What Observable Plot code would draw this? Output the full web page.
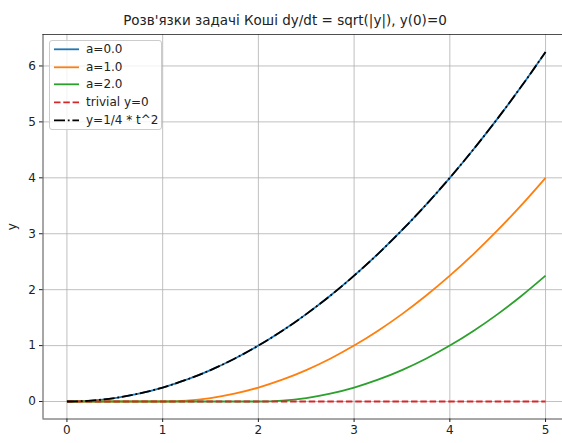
<!DOCTYPE html>
<html>
<head>
<meta charset="utf-8">
<script src="https://cdn.jsdelivr.net/npm/d3@7"></script>
<script src="https://cdn.jsdelivr.net/npm/@observablehq/plot@0.6"></script>
<style>
  body { margin: 0; background: #fff; font-family: "DejaVu Sans", sans-serif; }
  #wrap { position: relative; width: 562px; height: 443px; overflow: hidden; }
  #title { height: 33px; box-sizing: border-box; padding-top: 12px; padding-left: 8px; font-size: 13.5px; line-height: 16px; text-align: center; color: #222; white-space: nowrap; }
  #legend { position: absolute; left: 49px; top: 40px; width: 113px; height: 90px; box-sizing: border-box;
            background: rgba(255,255,255,0.8); border: 1px solid #cccccc; border-radius: 3px; font-size: 12px; color: #222; }
  .row { position: absolute; left: 0; height: 17.7px; width: 110px; }
  .row svg { position: absolute; left: 3px; top: 0; }
  .row span { position: absolute; left: 36px; top: 1px; line-height: 15px; white-space: nowrap; }
</style>
</head>
<body>
<div id="wrap">
  <div id="title"></div>
  <div id="chart"></div>
  <div id="legend"></div>
</div>
<script>
const titleText = "Розв'язки задачі Коші dy/dt = sqrt(|y|), y(0)=0";
const tValues = [0, 0.25, 0.5, 0.75, 1, 1.25, 1.5, 1.75, 2, 2.25, 2.5, 2.75, 3, 3.25, 3.5, 3.75, 4, 4.25, 4.5, 4.75, 5];
const yA0 = [0, 0.0156, 0.0625, 0.1406, 0.25, 0.3906, 0.5625, 0.7656, 1, 1.2656, 1.5625, 1.8906, 2.25, 2.6406, 3.0625, 3.5156, 4, 4.5156, 5.0625, 5.6406, 6.25];
const yA1 = [0, 0, 0, 0, 0, 0.0156, 0.0625, 0.1406, 0.25, 0.3906, 0.5625, 0.7656, 1, 1.2656, 1.5625, 1.8906, 2.25, 2.6406, 3.0625, 3.5156, 4];
const yA2 = [0, 0, 0, 0, 0, 0, 0, 0, 0, 0.0156, 0.0625, 0.1406, 0.25, 0.3906, 0.5625, 0.7656, 1, 1.2656, 1.5625, 1.8906, 2.25];
const yTrivial = [0, 0, 0, 0, 0, 0, 0, 0, 0, 0, 0, 0, 0, 0, 0, 0, 0, 0, 0, 0, 0];
const yParabola = [0, 0.0156, 0.0625, 0.1406, 0.25, 0.3906, 0.5625, 0.7656, 1, 1.2656, 1.5625, 1.8906, 2.25, 2.6406, 3.0625, 3.5156, 4, 4.5156, 5.0625, 5.6406, 6.25];
const seriesNames = ["a=0.0", "a=1.0", "a=2.0", "trivial y=0", "y=1/4 * t^2"];
const xTicks = [0, 1, 2, 3, 4, 5];
const yTicks = [0, 1, 2, 3, 4, 5, 6];

const styles = [
  {color: "#1f77b4", dash: null},
  {color: "#ff7f0e", dash: null},
  {color: "#2ca02c", dash: null},
  {color: "#d62728", dash: "6.5,2.8"},
  {color: "#000000", dash: "11,2.8,1.8,2.8"}
];
const seriesY = [yA0, yA1, yA2, yTrivial, yParabola];
const tables = seriesY.map(ys => tValues.map((t, i) => ({t, y: ys[i]})));

document.getElementById("title").textContent = titleText;

const xDomain = [-0.25, 5.177];
const yDomain = [-0.3125, 6.5625];

const lineMarks = tables.map((data, k) => Plot.line(data, {
  x: "t", y: "y", stroke: styles[k].color, strokeWidth: 1.8,
  strokeDasharray: styles[k].dash, curve: "monotone-x", strokeLinecap: "butt"
}));

const chart = Plot.plot({
  width: 562,
  height: 410,
  marginTop: 1,
  marginBottom: 24.5,
  marginLeft: 42.5,
  marginRight: 0,
  style: {fontFamily: "DejaVu Sans, sans-serif", fontSize: "12px", color: "#222", background: "#fff", overflow: "visible"},
  x: {domain: xDomain},
  y: {domain: yDomain},
  marks: [
    Plot.gridX(xTicks, {stroke: "#b0b0b0", strokeOpacity: 1, strokeWidth: 0.8}),
    Plot.gridY(yTicks, {stroke: "#b0b0b0", strokeOpacity: 1, strokeWidth: 0.8}),
    ...lineMarks,
    Plot.ruleX([xDomain[0]], {stroke: "#222", strokeWidth: 0.8}),
    Plot.ruleY([yDomain[0], yDomain[1]], {stroke: "#222", strokeWidth: 0.8}),
    Plot.axisX(xTicks, {tickSize: 3.5, tickPadding: 3, tickFormat: d => String(d), label: null, stroke: "#222", fill: "#222"}),
    Plot.axisY(yTicks, {tickSize: 3.5, tickPadding: 3.5, tickFormat: d => String(d), label: "y", labelAnchor: "center", labelArrow: "none", labelOffset: 36, stroke: "#222", fill: "#222"})
  ]
});
document.getElementById("chart").appendChild(chart);

const legend = document.getElementById("legend");
seriesNames.forEach((name, k) => {
  const row = document.createElement("div");
  row.className = "row";
  row.style.top = (k * 17.7) + "px";
  const dash = styles[k].dash ? `stroke-dasharray="${styles[k].dash}"` : "";
  row.innerHTML = `<svg width="28" height="17.7"><line x1="1" x2="26" y1="8.3" y2="8.3" stroke="${styles[k].color}" stroke-width="1.8" ${dash}/></svg><span></span>`;
  row.querySelector("span").textContent = name;
  legend.appendChild(row);
});
</script>
</body>
</html>
